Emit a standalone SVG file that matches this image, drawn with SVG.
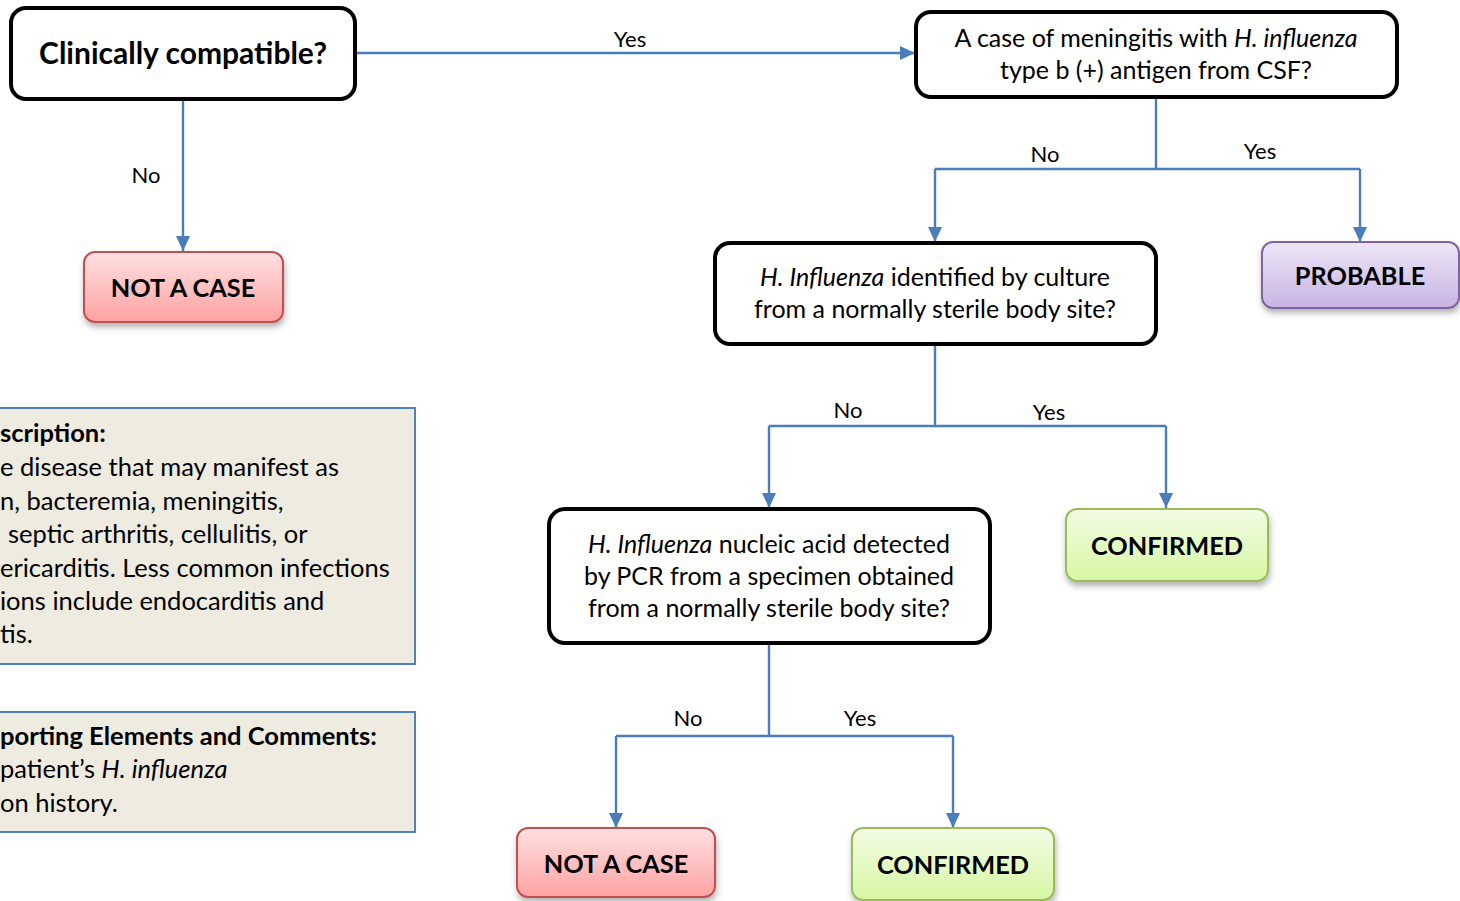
<svg xmlns="http://www.w3.org/2000/svg" width="1460" height="901" viewBox="0 0 1460 901">
<defs>
  <style>
    text { font-family: Lato, "Open Sans", "Liberation Sans", sans-serif; fill: #000; }
    .q { fill: #fff; stroke: #000; stroke-width: 4; }
    .qt { font-size: 25px; text-anchor: middle; }
    .rt { font-size: 25.3px; font-weight: bold; text-anchor: middle; }
    .lbl { font-size: 22px; text-anchor: middle; }
    .note { fill: #eeebe0; stroke: #4f81bd; stroke-width: 2; }
    .nt { font-size: 25.5px; }
    .conn path { fill: none; stroke: #4a7ebb; stroke-width: 2.4; }
    .red { fill: url(#gRed); stroke: #c0504d; stroke-width: 2; filter: url(#sh); }
    .green { fill: url(#gGreen); stroke: #9bbb59; stroke-width: 2; filter: url(#sh); }
    .purple { fill: url(#gPurple); stroke: #8064a2; stroke-width: 2; filter: url(#sh); }
  </style>
  <linearGradient id="gRed" x1="0" y1="0" x2="0" y2="1">
    <stop offset="0" stop-color="#ffe1e1"/>
    <stop offset="1" stop-color="#ffa2a2"/>
  </linearGradient>
  <linearGradient id="gGreen" x1="0" y1="0" x2="0" y2="1">
    <stop offset="0" stop-color="#f2fce4"/>
    <stop offset="1" stop-color="#d6f7a4"/>
  </linearGradient>
  <linearGradient id="gPurple" x1="0" y1="0" x2="0" y2="1">
    <stop offset="0" stop-color="#ede6f7"/>
    <stop offset="1" stop-color="#c8b4e2"/>
  </linearGradient>
  <filter id="sh" x="-10%" y="-20%" width="125%" height="150%">
    <feDropShadow dx="1" dy="4" stdDeviation="3" flood-color="#000" flood-opacity="0.3"/>
  </filter>
  <marker id="arrDown" markerWidth="14" markerHeight="15" refX="7" refY="15" orient="0" markerUnits="userSpaceOnUse" viewBox="0 0 14 15">
    <path d="M0,0 L14,0 L7,15 Z" fill="#4a7ebb"/>
  </marker>
  <marker id="arrR" markerWidth="15" markerHeight="14" refX="15" refY="7" orient="0" markerUnits="userSpaceOnUse" viewBox="0 0 15 14">
    <path d="M0,0 L15,7 L0,14 Z" fill="#4a7ebb"/>
  </marker>
</defs>
<rect width="1460" height="901" fill="#fff"/>

<g class="conn" id="connectors">
  <path d="M183,100 V251" marker-end="url(#arrDown)"/>
  <path d="M356,53 H915" marker-end="url(#arrR)"/>
  <path d="M1156,97 V169"/>
  <path d="M935,169 H1360"/>
  <path d="M935,169 V242" marker-end="url(#arrDown)"/>
  <path d="M1360,169 V242" marker-end="url(#arrDown)"/>
  <path d="M935,344 V426"/>
  <path d="M769,426 H1166"/>
  <path d="M769,426 V508" marker-end="url(#arrDown)"/>
  <path d="M1166,426 V508" marker-end="url(#arrDown)"/>
  <path d="M769,643 V736"/>
  <path d="M616,736 H953"/>
  <path d="M616,736 V828" marker-end="url(#arrDown)"/>
  <path d="M953,736 V828" marker-end="url(#arrDown)"/>
  <text class="lbl" x="146" y="183">No</text>
  <text class="lbl" x="630" y="47">Yes</text>
  <text class="lbl" x="1045" y="162">No</text>
  <text class="lbl" x="1260" y="159">Yes</text>
  <text class="lbl" x="848" y="418">No</text>
  <text class="lbl" x="1049" y="420">Yes</text>
  <text class="lbl" x="688" y="726">No</text>
  <text class="lbl" x="860" y="726">Yes</text>
</g>

<g id="n-clinical">
  <rect class="q" x="11" y="8" width="344" height="91" rx="15"/>
  <text x="183" y="64" font-size="30" font-weight="bold" text-anchor="middle">Clinically compatible?</text>
</g>

<g id="n-notcase1">
  <rect class="red" x="84" y="252" width="199" height="70" rx="11"/>
  <text class="rt" x="183" y="297">NOT A CASE</text>
</g>

<g id="n-antigen">
  <rect class="q" x="916" y="12" width="481" height="85" rx="15"/>
  <text class="qt" x="1156" y="47">A case of meningitis with <tspan font-style="italic">H. influenza</tspan></text>
  <text class="qt" x="1156" y="79">type b (+) antigen from CSF?</text>
</g>

<g id="n-probable">
  <rect class="purple" x="1262" y="242" width="197" height="66" rx="11"/>
  <text class="rt" x="1360" y="285">PROBABLE</text>
</g>

<g id="n-culture">
  <rect class="q" x="715" y="243" width="441" height="101" rx="15"/>
  <text class="qt" x="935" y="286"><tspan font-style="italic">H. Influenza</tspan> identified by culture</text>
  <text class="qt" x="935" y="318">from a normally sterile body site?</text>
</g>

<g id="n-confirmed1">
  <rect class="green" x="1066" y="509" width="202" height="72" rx="11"/>
  <text class="rt" x="1167" y="555">CONFIRMED</text>
</g>

<g id="n-pcr">
  <rect class="q" x="549" y="509" width="441" height="134" rx="16"/>
  <text class="qt" x="769" y="553"><tspan font-style="italic">H. Influenza</tspan> nucleic acid detected</text>
  <text class="qt" x="769" y="585">by PCR from a specimen obtained</text>
  <text class="qt" x="769" y="617">from a normally sterile body site?</text>
</g>

<g id="n-notcase2">
  <rect class="red" x="517" y="828" width="198" height="69" rx="11"/>
  <text class="rt" x="616" y="873">NOT A CASE</text>
</g>

<g id="n-confirmed2">
  <rect class="green" x="852" y="828" width="202" height="72" rx="11"/>
  <text class="rt" x="953" y="874">CONFIRMED</text>
</g>

<g id="n-description">
  <rect class="note" x="-10" y="408" width="425" height="256"/>
  <text class="nt" x="0" y="442" font-weight="bold">scription:</text>
  <text class="nt" x="0" y="476">e disease that may manifest as</text>
  <text class="nt" x="0" y="510">n, bacteremia, meningitis,</text>
  <text class="nt" x="8" y="543">septic arthritis, cellulitis, or</text>
  <text class="nt" x="0" y="577">ericarditis. Less common infections</text>
  <text class="nt" x="0" y="610">ions include endocarditis and</text>
  <text class="nt" x="0" y="643">tis.</text>
</g>

<g id="n-comments">
  <rect class="note" x="-10" y="712" width="425" height="120"/>
  <text class="nt" x="0" y="745" font-weight="bold">porting Elements and Comments:</text>
  <text class="nt" x="0" y="778">patient’s <tspan font-style="italic">H. influenza</tspan></text>
  <text class="nt" x="0" y="812">on history.</text>
</g>
</svg>
